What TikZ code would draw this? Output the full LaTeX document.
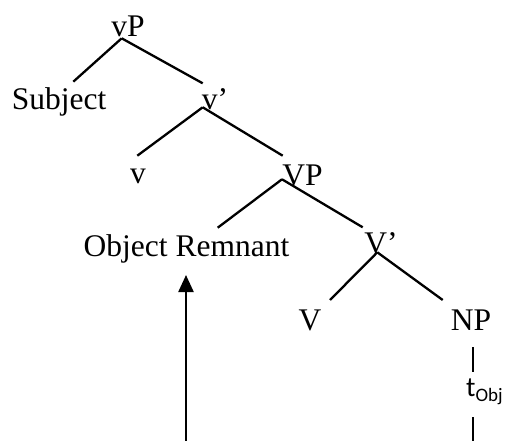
\documentclass[tikz,border=0pt]{standalone}
\usepackage{fontspec}
\setmainfont{Liberation Serif}
\newfontfamily\calfont{Carlito}
\usetikzlibrary{arrows.meta}
\begin{document}
\begin{tikzpicture}[x=1pt,y=-1pt,
  lbl/.style={anchor=base,inner sep=0pt,font=\fontsize{31.5}{36}\selectfont},
  branch/.style={line width=2.3pt},
  mv/.style={line width=2.3pt,-{Triangle[length=17pt,width=15pt]}}]
\useasboundingbox (0,0) rectangle (506,441);
% nodes
\node[lbl] (vP) at (128,37) {vP};
\node[lbl] (subj) at (59,110) {Subject};
\node[lbl] (vbar) at (215,110) {v’};
\node[lbl] (v) at (138,183) {v};
\node[lbl] (VP) at (302.5,185) {VP};
\node[lbl] (obj) at (186.5,256) {Object Remnant};
\node[lbl] (Vbar) at (381,253) {V’};
\node[lbl] (V) at (310,330) {V};
\node[lbl] (NP) at (471,330) {NP};
\node[anchor=base west,inner sep=0pt,font=\calfont\fontsize{28}{32}\selectfont] (t) at (466,396) {t\raisebox{-5pt}{\fontsize{19}{22}\selectfont Obj}};
% branch points
\coordinate (vPb) at (121.7,38.3);
\coordinate (subjt) at (73.3,81.7);
\coordinate (vbart) at (202.7,83.3);
\coordinate (vbarb) at (202.7,107.3);
\coordinate (vt) at (137.3,155.7);
\coordinate (VPt) at (282.7,155.7);
\coordinate (VPb) at (282,179.3);
\coordinate (objt) at (217.7,227.7);
\coordinate (Vbart) at (362.7,227.3);
\coordinate (Vbarb) at (377.3,252.3);
\coordinate (Vt) at (330,300);
\coordinate (NPt) at (442.7,300);
\coordinate (NPb) at (473.3,347);
\coordinate (tt) at (473.3,372);
\coordinate (tb) at (473.3,417);
\coordinate (tend) at (473.3,441);
\coordinate (arrS) at (186,441);
\coordinate (arrE) at (186,275);
% connectors
\draw[branch] (vPb) -- (subjt);
\draw[branch] (vPb) -- (vbart);
\draw[branch] (vbarb) -- (vt);
\draw[branch] (vbarb) -- (VPt);
\draw[branch] (VPb) -- (objt);
\draw[branch] (VPb) -- (Vbart);
\draw[branch] (Vbarb) -- (Vt);
\draw[branch] (Vbarb) -- (NPt);
\draw[branch] (NPb) -- (tt);
\draw[branch] (tb) -- (tend);
\draw[mv] (arrS) -- (arrE);
\end{tikzpicture}
\end{document}
